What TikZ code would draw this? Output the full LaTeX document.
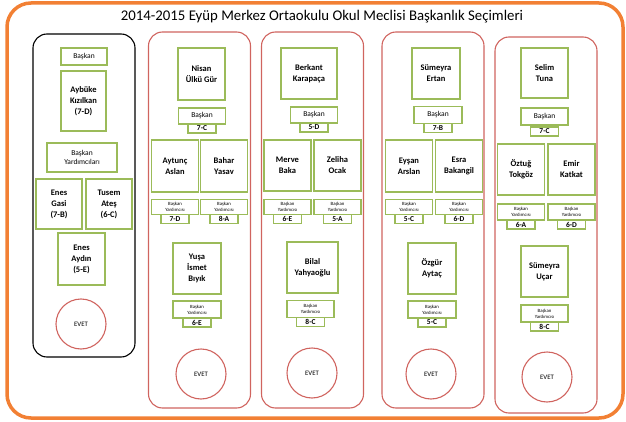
\documentclass[tikz,border=0pt]{standalone}
\usepackage{fontspec}
\setmainfont{Carlito}
\usetikzlibrary{positioning}
\definecolor{boxgreen}{RGB}{155,187,89}
\definecolor{colred}{RGB}{208,100,95}
\definecolor{frameorange}{RGB}{242,128,52}
\tikzstyle{frame} = [draw=frameorange, line width=3.5pt, rounded corners=24pt]
\tikzstyle{column} = [rectangle, draw=colred, line width=1.1pt, rounded corners=14pt, minimum width=102pt, minimum height=376pt]
\tikzstyle{namebox} = [rectangle, draw=boxgreen, line width=1.7pt, outer sep=0pt, minimum width=47pt, minimum height=51pt, align=center, inner sep=1pt, font=\fontsize{8.5}{11}\selectfont\bfseries]
\tikzstyle{rolebox} = [rectangle, draw=boxgreen, line width=1.7pt, outer sep=0pt, minimum width=47pt, minimum height=16pt, align=center, inner sep=1pt, font=\fontsize{7.5}{9}\selectfont]
\tikzstyle{vicebox} = [rolebox, minimum height=15pt, font=\fontsize{4.8}{6}\selectfont]
\tikzstyle{classbox} = [rectangle, draw=boxgreen, line width=1.7pt, outer sep=0pt, minimum width=28pt, minimum height=9pt, inner sep=0pt, font=\fontsize{7.5}{7.5}\selectfont\bfseries]
\tikzstyle{vote} = [circle, draw=colred, line width=1.1pt, minimum size=50pt, inner sep=0pt, font=\fontsize{6.8}{7}\selectfont]

\begin{document}
\begin{tikzpicture}[x=1pt, y=-1pt]
	\useasboundingbox (0,0) rectangle (626,422);
	\draw [frame] (7,3) rectangle (623,418);
	\node (title) at (322,17) {\fontsize{14.8}{17}\selectfont 2014-2015 Eyüp Merkez Ortaokulu Okul Meclisi Başkanlık Seçimleri};

	% columns
	\node (col0) [column, draw=black, minimum height=323pt] at (84,195.5) {};
	\node (col1) [column] at (199.5,220) {};
	\node (col2) [column] at (312.5,220) {};
	\node (col3) [column] at (433,220) {};
	\node (col4) [column] at (546,225) {};

	% first column
	\node (aybukerole) [rolebox, minimum width=46pt, minimum height=17pt] at (84,56.5) {Başkan};
	\node (aybuke) [namebox, minimum width=45pt, minimum height=60pt] at (83.5,101) {Aybüke\\Kızılkan\\(7-D)};
	\node (vicerole) [rolebox, minimum width=70pt, minimum height=29pt] at (82,157.5) {Başkan\\Yardımcıları};
	\node (gasi) [namebox, minimum width=46pt, minimum height=50pt] at (59,204) {Enes\\Gasi\\(7-B)};
	\node (ates) [namebox, minimum width=46pt, minimum height=50pt] at (109,204) {Tusem\\Ateş\\(6-C)};
	\node (aydin) [namebox, minimum height=52pt] at (81.5,259) {Enes\\Aydın\\(5-E)};
	\node (vote0) [vote] at (81,324) {EVET};

	% second column
	\node (nisan) [namebox, minimum height=52pt] at (201.5,74) {Nisan\\Ülkü Gür};
	\node (nisanrole) [rolebox] at (202,116) {Başkan};
	\node (nisanclass) [classbox, below=0pt of nisanrole] {7-C};
	\node (aytunc) [namebox, minimum height=52pt] at (175,166) {Aytunç\\Aslan};
	\node (bahar) [namebox, minimum height=52pt] at (224,166) {Bahar\\Yasav};
	\node (aytuncrole) [vicebox] at (175,207) {Başkan\\Yardımcısı};
	\node (aytuncclass) [classbox, below=0pt of aytuncrole] {7-D};
	\node (baharrole) [vicebox] at (224,207) {Başkan\\Yardımcısı};
	\node (baharclass) [classbox, below=0pt of baharrole] {8-A};
	\node (yusa) [namebox, minimum width=48pt] at (197,268.5) {Yuşa\\İsmet\\Bıyık};
	\node (yusarole) [vicebox, minimum width=48pt, minimum height=17pt] at (197,309.5) {Başkan\\Yardımcısı};
	\node (yusaclass) [classbox, below=0pt of yusarole] {6-E};
	\node (vote1) [vote] at (201,374) {EVET};

	% third column
	\node (berkant) [namebox, minimum width=56pt] at (309,73.5) {Berkant\\Karapaça};
	\node (berkantrole) [rolebox] at (314,115) {Başkan};
	\node (berkantclass) [classbox, below=0pt of berkantrole] {5-D};
	\node (merve) [namebox] at (287.5,165.5) {Merve\\Baka};
	\node (zeliha) [namebox] at (337.5,165.5) {Zeliha\\Ocak};
	\node (merverole) [vicebox] at (287.5,207) {Başkan\\Yardımcısı};
	\node (merveclass) [classbox, below=0pt of merverole] {6-E};
	\node (zeliharole) [vicebox] at (337.5,207) {Başkan\\Yardımcısı};
	\node (zelihaclass) [classbox, below=0pt of zeliharole] {5-A};
	\node (bilal) [namebox, minimum width=51pt] at (312.5,267.5) {Bilal\\Yahyaoğlu};
	\node (bilalrole) [vicebox, minimum height=17pt] at (310.5,309) {Başkan\\Yardımcısı};
	\node (bilalclass) [classbox, below=0pt of bilalrole] {8-C};
	\node (vote2) [vote] at (312,373) {EVET};

	% fourth column
	\node (ertan) [namebox, minimum width=48pt] at (436,73.5) {Sümeyra\\Ertan};
	\node (ertanrole) [rolebox, minimum width=48pt, minimum height=17pt] at (438,115) {Başkan};
	\node (ertanclass) [classbox, below=0pt of ertanrole] {7-B};
	\node (eysan) [namebox, minimum height=52pt] at (409,166) {Eyşan\\Arslan};
	\node (esra) [namebox, minimum height=52pt] at (459,166) {Esra\\Bakangil};
	\node (eysanrole) [vicebox] at (409,207) {Başkan\\Yardımcısı};
	\node (eysanclass) [classbox, below=0pt of eysanrole] {5-C};
	\node (esrarole) [vicebox] at (459,207) {Başkan\\Yardımcısı};
	\node (esraclass) [classbox, below=0pt of esrarole] {6-D};
	\node (ozgur) [namebox, minimum width=48pt] at (432,268.5) {Özgür\\Aytaç};
	\node (ozgurrole) [vicebox, minimum width=48pt, minimum height=17pt] at (432,309.5) {Başkan\\Yardımcısı};
	\node (ozgurclass) [classbox, below=0pt of ozgurrole] {5-C};
	\node (vote3) [vote] at (431,374) {EVET};

	% fifth column
	\node (selim) [namebox, minimum height=50pt] at (544.5,73) {Selim\\Tuna};
	\node (selimrole) [rolebox, minimum height=17pt] at (544.5,116.5) {Başkan};
	\node (selimclass) [classbox, below=2pt of selimrole] {7-C};
	\node (oztug) [namebox] at (521,169.5) {Öztuğ\\Tokgöz};
	\node (emir) [namebox] at (571.5,169.5) {Emir\\Katkat};
	\node (oztugrole) [vicebox, minimum height=16pt] at (521,212) {Başkan\\Yardımcısı};
	\node (oztugclass) [classbox, below=0pt of oztugrole] {6-A};
	\node (emirrole) [vicebox, minimum height=16pt] at (571.5,212) {Başkan\\Yardımcısı};
	\node (emirclass) [classbox, below=0pt of emirrole] {6-D};
	\node (ucar) [namebox] at (544.5,271.5) {Sümeyra\\Uçar};
	\node (ucarrole) [vicebox, minimum height=17pt] at (544.5,313.5) {Başkan\\Yardımcısı};
	\node (ucarclass) [classbox, below=0pt of ucarrole] {8-C};
	\node (vote4) [vote] at (547,377) {EVET};
\end{tikzpicture}
\end{document}
